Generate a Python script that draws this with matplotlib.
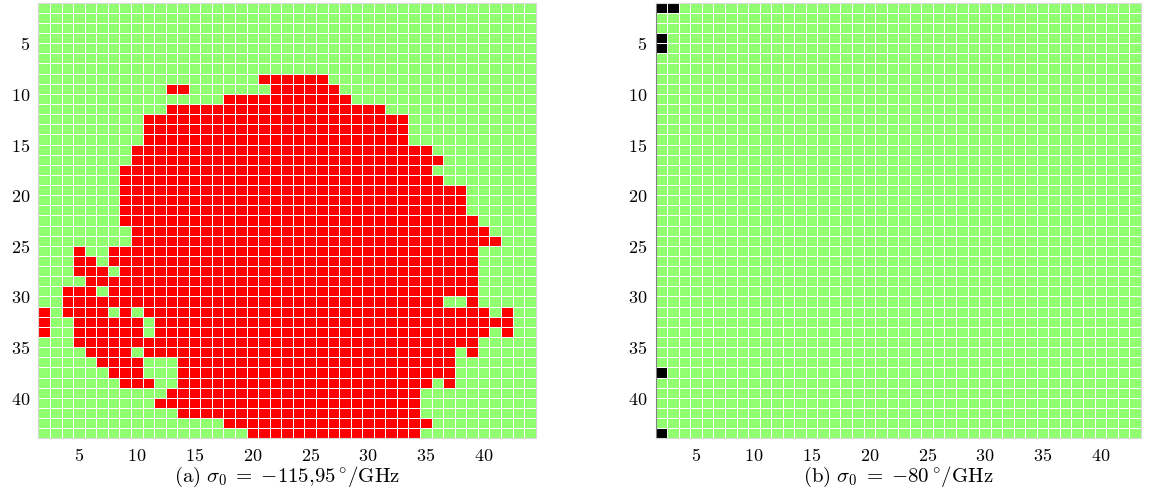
import numpy as np
import matplotlib.pyplot as plt
from matplotlib.colors import ListedColormap
from matplotlib.ticker import FuncFormatter, MultipleLocator

plt.rcParams['mathtext.fontset'] = 'cm'
plt.rcParams['font.family'] = 'serif'
plt.rcParams['font.serif'] = ['DejaVu Serif']

n_rows = 43
n_cols_a = 43
n_cols_b = 42

# panel (a): red cells per row, (first col, last col), 0-based
red_runs_a = {
    7: [(19, 24)],
    8: [(11, 12), (20, 25)],
    9: [(16, 26)],
    10: [(11, 29)],
    11: [(9, 31)],
    12: [(9, 31)],
    13: [(9, 31)],
    14: [(8, 33)],
    15: [(8, 34)],
    16: [(7, 33)],
    17: [(7, 34)],
    18: [(7, 36)],
    19: [(7, 36)],
    20: [(7, 36)],
    21: [(7, 37)],
    22: [(8, 38)],
    23: [(8, 39)],
    24: [(3, 3), (6, 37)],
    25: [(3, 4), (6, 37)],
    26: [(3, 5), (7, 37)],
    27: [(4, 37)],
    28: [(2, 4), (6, 37)],
    29: [(2, 34), (37, 37)],
    30: [(0, 0), (2, 5), (7, 7), (9, 38), (40, 40)],
    31: [(0, 0), (3, 8), (10, 40)],
    32: [(0, 0), (3, 8), (10, 38), (40, 40)],
    33: [(3, 37)],
    34: [(4, 7), (9, 35), (37, 37)],
    35: [(5, 8), (12, 35)],
    36: [(6, 8), (12, 35)],
    37: [(7, 9), (12, 33), (35, 35)],
    38: [(11, 32)],
    39: [(10, 32)],
    40: [(12, 32)],
    41: [(16, 33)],
    42: [(18, 32)],
}

# panel (b): black cells (row, col), 0-based
black_cells_b = [(0, 0), (0, 1), (3, 0), (4, 0), (36, 0), (42, 0)]

caption_a = r"$\mathrm{(a)}\ \sigma_0\;=\;{-}115{,}95\,^{\circ}/\mathrm{GHz}$"
caption_b = r"$\mathrm{(b)}\ \sigma_0\;=\;{-}80\,^{\circ}/\mathrm{GHz}$"

green = '#90ff70'
cmap_a = ListedColormap([green, '#ff0000'])
cmap_b = ListedColormap([green, '#000000'])

mat_a = np.zeros((n_rows, n_cols_a))
for r, spans in red_runs_a.items():
    for a, b in spans:
        mat_a[r, a:b + 1] = 1

mat_b = np.zeros((n_rows, n_cols_b))
for r, c in black_cells_b:
    mat_b[r, c] = 1

fig = plt.figure(figsize=(11.51, 4.92), dpi=100)
ax_a = fig.add_axes([0.0334, 0.1091, 0.4320, 0.8854])
ax_b = fig.add_axes([0.5697, 0.1091, 0.4214, 0.8854])


def draw(ax, mat, cmap, caption):
    n_cols = mat.shape[1]
    xe = np.arange(n_cols + 1) + 1.5
    ye = np.arange(n_rows + 1) + 1.0
    ax.pcolormesh(xe, ye, mat, cmap=cmap, vmin=0, vmax=1,
                  edgecolors='white', linewidth=0.55)
    ax.set_xlim(xe[0], xe[-1])
    ax.set_ylim(ye[-1], ye[0])
    ax.xaxis.set_major_locator(MultipleLocator(5))
    ax.yaxis.set_major_locator(MultipleLocator(5))
    fmt = FuncFormatter(lambda v, p: f"${v:.0f}$")
    ax.xaxis.set_major_formatter(fmt)
    ax.yaxis.set_major_formatter(fmt)
    ax.tick_params(length=0, labelsize=13, pad=6)
    for s in ax.spines.values():
        s.set_color('#d8d8d8')
        s.set_linewidth(0.8)
    pos = ax.get_position()
    fig.text(pos.x0 + pos.width / 2, 0.031, caption,
             ha='center', va='center', fontsize=15)


draw(ax_a, mat_a, cmap_a, caption_a)
draw(ax_b, mat_b, cmap_b, caption_b)
ax_b.spines['left'].set_color('#808080')

fig.savefig('out.png', dpi=100)
